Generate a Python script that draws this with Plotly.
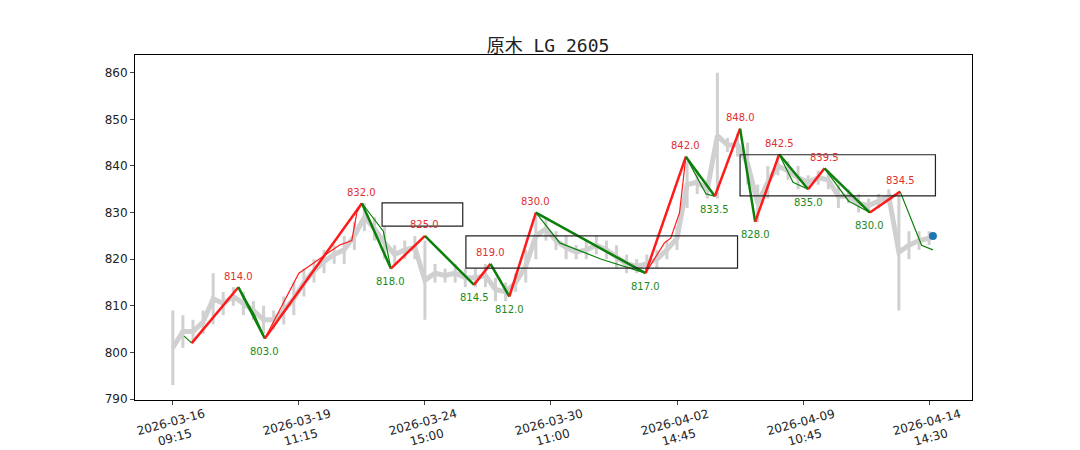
import plotly.graph_objects as go

# gray price range per bucket (bar index, low, high)
bucket_x = list(range(0, 601, 8))
bucket_low = [793, 801, 802, 804, 806, 808, 810, 808, 807, 804, 805, 806, 808, 812, 815, 817,
              819, 819, 822, 826, 824, 820, 819, 820, 820, 807, 815, 815, 815, 814, 814, 814,
              811, 811, 813, 815, 820, 824, 822, 820, 820, 820, 821, 820, 818, 817, 817, 817,
              818, 820, 822, 831, 834, 833, 833, 843, 842, 836, 828, 833, 838, 837, 835, 835,
              836, 835, 831, 832, 830, 830, 831, 832, 809, 820, 822, 823]
bucket_high = [809, 808, 807, 809, 817, 813, 814, 813, 811, 810, 809, 812, 815, 818, 820, 822,
               823, 825, 828, 832, 829, 827, 823, 824, 825, 824, 819, 818, 819, 818, 818, 819,
               816, 815, 817, 822, 830, 829, 826, 825, 823, 824, 825, 824, 823, 821, 820, 821,
               822, 824, 827, 841, 839, 837, 860, 846, 847, 845, 836, 840, 842, 841, 840, 838,
               839, 839, 836, 835, 834, 833, 834, 835, 834, 826, 826, 826]

# main zigzag pivots
pivot_x = [15, 52, 73, 150, 173, 200, 239, 252, 267, 288, 375, 407, 430, 450, 462, 481, 504, 517, 553, 577]
pivot_y = [802, 814, 803, 832, 818, 825, 814.5, 819, 812, 830, 817, 842, 833.5, 848, 828, 842.5, 835, 839.5, 830, 834.5]
label_idx = list(range(1, 20))

# finer thin zigzag (red up / green down legs)
thin_red = [
    ([73, 100, 108, 132, 142, 146, 150], [803, 817, 818.5, 823, 824, 830, 832]),
    ([375, 390, 395, 402, 407], [817, 823.5, 824.5, 830, 842]),
]
thin_green = [
    ([9, 15], [803.5, 802]),
    ([52, 65, 73], [814, 808, 803]),
    ([150, 167, 173], [832, 826, 818]),
    ([288, 307, 340, 375], [830, 823.5, 820, 817]),
    ([407, 423, 430], [842, 834, 833.5]),
    ([481, 492, 504], [842.5, 836.5, 835]),
    ([517, 536, 553], [839.5, 832.5, 830]),
    ([577, 594, 603], [834.5, 823, 822]),
]
last_x, last_y = 603, 825

# boxes: x0, x1, y0, y1
boxes = [(166, 230, 827.1, 832.1), (232.5, 448, 818.1, 825), (450, 605, 833.6, 842.4)]

tick_vals = [0, 100, 200, 300, 400, 500, 600]
tick_text = ["2026-03-16<br>09:15", "2026-03-19<br>11:15", "2026-03-24<br>15:00", "2026-03-30<br>11:00",
             "2026-04-02<br>14:45", "2026-04-09<br>10:45", "2026-04-14<br>14:30"]

RED, GREEN, GRAY = "#ff1a1a", "#0a800a", "#d0d0d0"

fig = go.Figure()

sx, sy = [], []
for x, lo, hi in zip(bucket_x, bucket_low, bucket_high):
    sx += [x, x, None]
    sy += [lo, hi, None]
fig.add_trace(go.Scatter(x=sx, y=sy, mode="lines", line=dict(color=GRAY, width=3), hoverinfo="skip"))
mid = [(lo + hi) / 2 for lo, hi in zip(bucket_low, bucket_high)]
fig.add_trace(go.Scatter(x=bucket_x, y=mid, mode="lines", line=dict(color=GRAY, width=5), hoverinfo="skip"))

for xs, ys in thin_red:
    fig.add_trace(go.Scatter(x=xs, y=ys, mode="lines", line=dict(color=RED, width=1.2)))
for xs, ys in thin_green:
    fig.add_trace(go.Scatter(x=xs, y=ys, mode="lines", line=dict(color=GREEN, width=1.2)))

for i in range(len(pivot_x) - 1):
    up = pivot_y[i + 1] > pivot_y[i]
    fig.add_trace(go.Scatter(x=pivot_x[i:i + 2], y=pivot_y[i:i + 2], mode="lines",
                             line=dict(color=RED if up else GREEN, width=2.5)))

fig.add_trace(go.Scatter(x=[last_x], y=[last_y], mode="markers",
                         marker=dict(color="#1f77b4", size=8)))

for i in label_idx:
    high = pivot_y[i] > pivot_y[i - 1]
    fig.add_annotation(x=pivot_x[i], y=pivot_y[i], text=f"{pivot_y[i]:.1f}", showarrow=False,
                       yshift=11 if high else -13, font=dict(size=10, color="#e03030" if high else "#1a8a1a"))

for x0, x1, y0, y1 in boxes:
    fig.add_shape(type="rect", x0=x0, x1=x1, y0=y0, y1=y1, line=dict(color="#222", width=1.2))

# rotated tick labels centred on their ticks
for tv, tt in zip(tick_vals, tick_text):
    fig.add_annotation(x=tv, xref="x", y=0, yref="paper", yanchor="middle", yshift=-30,
                       text=tt, textangle=-15, showarrow=False, align="center",
                       font=dict(size=12, color="#222"))

axis = dict(showgrid=False, zeroline=False, showline=True, linecolor="black", mirror=True,
            ticks="outside", ticklen=4, tickfont=dict(size=12, color="#222"), automargin=False)
fig.update_layout(
    width=1080, height=450, showlegend=False, plot_bgcolor="white", paper_bgcolor="white",
    margin=dict(l=127, r=116, t=47, b=58, autoexpand=False),
    font=dict(family="DejaVu Sans"),
    title=dict(text="原木 LG 2605", x=0.5, y=0.93, xanchor="center",
               font=dict(family="DejaVu Sans Mono, Noto Sans CJK SC", size=18, color="#222"),
               automargin=False),
    xaxis=dict(axis, range=[-30, 634], tickvals=tick_vals, showticklabels=False),
    yaxis=dict(axis, range=[789.8, 863.8], tickvals=list(range(790, 861, 10))),
)
fig.write_html("out.html")
